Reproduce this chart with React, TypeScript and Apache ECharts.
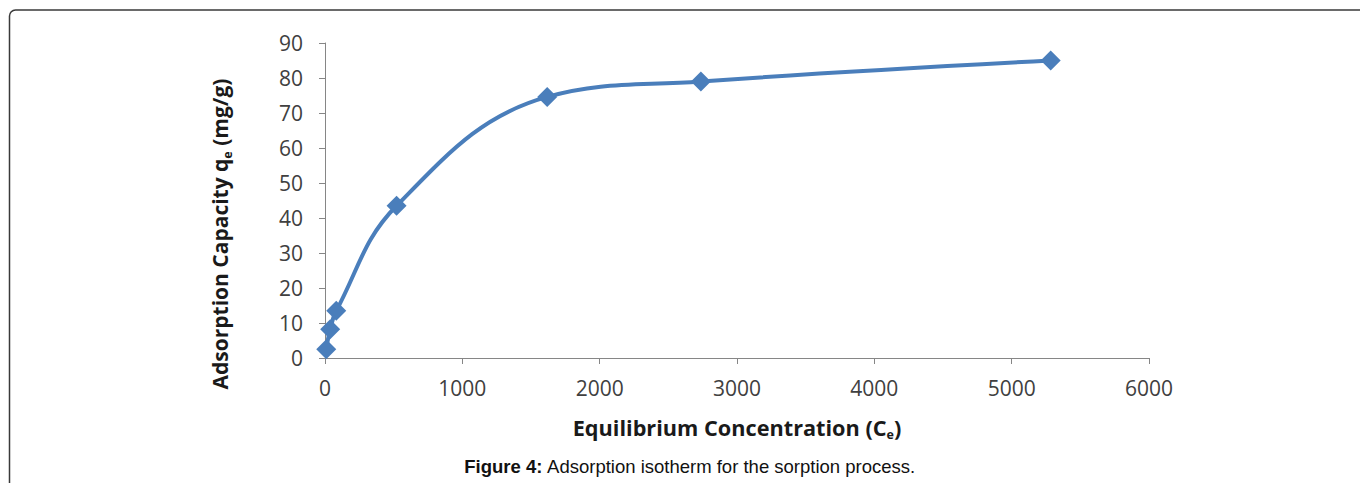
import React, { useEffect, useRef } from "react";
import * as echarts from "echarts";

const ceValues = [9, 38, 82, 521, 1618, 2737, 5284];
const qeValues = [2.5, 8.2, 13.5, 43.5, 74.6, 79.0, 85.0];
const xTicks = { min: 0, max: 6000, interval: 1000 };
const yTicks = { min: 0, max: 90, interval: 10 };
const xTitle = "Equilibrium Concentration (C";
const xTitleSub = "e";
const yTitleA = "Adsorption Capacity q";
const yTitleSub = "e";
const yTitleB = " (mg/g)";
const captionBold = "Figure 4:";
const captionText = " Adsorption isotherm for the sorption process.";

const BLUE = "#4a7ebb";
const AXIS = "#868686";
const FONT = "Open Sans";

export default function App() {
  const ref = useRef<HTMLDivElement>(null);
  useEffect(() => {
    if (!ref.current) return;
    const chart = echarts.init(ref.current, null, { renderer: "svg" });
    const data = ceValues.map((x, i) => [x, qeValues[i]]);
    chart.setOption({
      animation: false,
      backgroundColor: "#ffffff",
      grid: { left: 325, right: 211, top: 43, bottom: 125, containLabel: false },
      xAxis: {
        type: "value",
        min: xTicks.min,
        max: xTicks.max,
        interval: xTicks.interval,
        axisLine: { show: true, lineStyle: { color: AXIS, width: 1 } },
        axisTick: { show: true, length: 6, lineStyle: { color: AXIS } },
        splitLine: { show: false },
        axisLabel: {
          color: "#404040",
          fontSize: 21,
          fontFamily: FONT,
          margin: 19,
          formatter: (v: number) => String(v),
        },
      },
      yAxis: {
        type: "value",
        min: yTicks.min,
        max: yTicks.max,
        interval: yTicks.interval,
        axisLine: { show: true, lineStyle: { color: AXIS, width: 1 } },
        axisTick: { show: true, length: 6, lineStyle: { color: AXIS } },
        splitLine: { show: false },
        axisLabel: {
          color: "#404040",
          fontSize: 21,
          fontFamily: FONT,
          margin: 22,
          formatter: (v: number) => String(v),
        },
      },
      series: [
        {
          type: "line",
          data,
          smooth: 0.4,
          symbol: "diamond",
          symbolSize: 20,
          lineStyle: { color: BLUE, width: 4 },
          itemStyle: { color: BLUE },
          z: 3,
        },
      ],
      graphic: [
        {
          type: "rect",
          shape: { x: 9.5, y: 10, width: 1400, height: 520, r: 6 },
          style: { fill: "none", stroke: "#3a3a3a", lineWidth: 1.5 },
          silent: true,
        },
        {
          type: "text",
          x: 737,
          y: 427,
          style: {
            text: `{m|${xTitle}}{s|${xTitleSub}}{m|)}`,
            align: "center",
            verticalAlign: "middle",
            rich: {
              m: { fontFamily: FONT, fontWeight: "bold", fontSize: 21.7, fill: "#1a1a1a", lineHeight: 28 },
              s: { fontFamily: FONT, fontWeight: "bold", fontSize: 12.5, fill: "#1a1a1a", lineHeight: 28, verticalAlign: "bottom" },
            },
          },
        },
        {
          type: "text",
          x: 220,
          y: 234,
          rotation: Math.PI / 2,
          style: {
            text: `{m|${yTitleA}}{s|${yTitleSub}}{m|${yTitleB}}`,
            align: "center",
            verticalAlign: "middle",
            rich: {
              m: { fontFamily: FONT, fontWeight: "bold", fontSize: 21, fill: "#1a1a1a", lineHeight: 28 },
              s: { fontFamily: FONT, fontWeight: "bold", fontSize: 12.5, fill: "#1a1a1a", lineHeight: 28, verticalAlign: "bottom" },
            },
          },
        },
        {
          type: "text",
          x: 690,
          y: 466,
          style: {
            text: `{b|${captionBold}}{n|${captionText}}`,
            align: "center",
            verticalAlign: "middle",
            rich: {
              b: { fontFamily: "Liberation Sans", fontWeight: "bold", fontSize: 18.5, fill: "#111" },
              n: { fontFamily: "Liberation Sans", fontSize: 18.5, fill: "#111" },
            },
          },
        },
      ],
    });
    return () => chart.dispose();
  }, []);
  return (
    <div
      ref={ref}
      style={{ position: "fixed", left: 0, top: 0, width: 1360, height: 483 }}
    />
  );
}
